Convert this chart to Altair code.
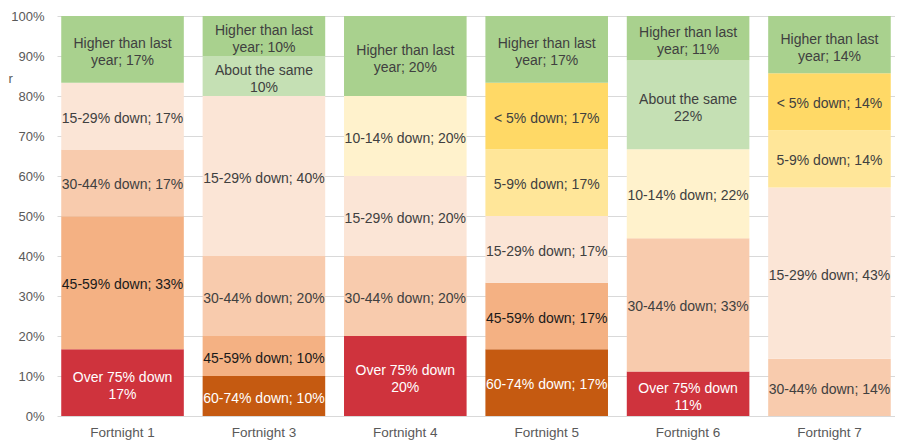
import altair as alt
import pandas as pd

fortnights = ["Fortnight 1", "Fortnight 3", "Fortnight 4", "Fortnight 5", "Fortnight 6", "Fortnight 7"]

# bands from bottom to top of each stack
bands = ["Over 75% down", "60-74% down", "45-59% down", "30-44% down", "15-29% down",
         "10-14% down", "5-9% down", "< 5% down", "About the same", "Higher than last year"]

band_colors = ["#CF333D", "#C55A11", "#F4B183", "#F8CBAD", "#FBE5D6",
               "#FFF2CC", "#FFE699", "#FFD966", "#C5E0B4", "#A9D18E"]
text_colors = ["#FFFFFF", "#FFFFFF", "#1A1A1A", "#404040", "#404040",
               "#404040", "#404040", "#404040", "#404040", "#404040"]

label_templates = {
    "Over 75% down": "Over 75% down\n{}%",
    "About the same": "About the same\n{}%",
    "Higher than last year": "Higher than last\nyear; {}%",
}

# percentage shares per band (same order as bands), per fortnight
f1 = [16.7, 0, 33.3, 16.7, 16.7, 0, 0, 0, 0, 16.7]
f3 = [0, 10, 10, 20, 40, 0, 0, 0, 10, 10]
f4 = [20, 0, 0, 20, 20, 20, 0, 0, 0, 20]
f5 = [0, 16.7, 16.7, 0, 16.7, 0, 16.7, 16.7, 0, 16.7]
f6 = [11.1, 0, 0, 33.3, 0, 22.2, 0, 0, 22.2, 11.1]
f7 = [0, 0, 0, 14.3, 42.9, 0, 14.3, 14.3, 0, 14.3]

y_ticks = [0, 0.1, 0.2, 0.3, 0.4, 0.5, 0.6, 0.7, 0.8, 0.9, 1.0]

series = [f1, f3, f4, f5, f6, f7]

rows = []
for fn, vals in zip(fortnights, series):
    for i, (b, v) in enumerate(zip(bands, vals)):
        if v <= 0:
            continue
        tmpl = label_templates.get(b, b + "; {}%")
        rows.append({
            "fortnight": fn,
            "band": b,
            "order": i,
            "value": v,
            "label": tmpl.format(int(round(v))),
            "multi": b in label_templates,
            "tcolor": text_colors[i],
        })
df = pd.DataFrame(rows)

FONT = "Liberation Sans"

base = alt.Chart(df).transform_stack(
    stack="value",
    groupby=["fortnight"],
    as_=["y0", "y1"],
    offset="normalize",
    sort=[alt.SortField("order", order="ascending")],
).transform_calculate(
    mid="(datum.y0 + datum.y1) / 2"
)

x_scale = alt.Scale(paddingInner=0.133, paddingOuter=0.03)
y_scale = alt.Scale(domain=[0, 1], nice=False)

x_axis = alt.Axis(labelAngle=0, domain=False, ticks=False, labelPadding=9,
                  labelFont=FONT, labelFontSize=13.5, labelColor="#595959", grid=False)
y_axis = alt.Axis(
    values=y_ticks,
    format=".0%",
    domain=False,
    ticks=False,
    labelOverlap=False,
    labelFlush=False,
    labelPadding=13,
    labelFont=FONT,
    labelFontSize=13,
    labelColor="#595959",
    grid=True,
    gridColor="#D9D9D9",
    title="r",
    titleAngle=0,
    titleX=-49,
    titleY=62,
    titleAlign="left",
    titleBaseline="middle",
    titleFont=FONT,
    titleFontSize=13,
    titleFontWeight="normal",
    titleColor="#595959",
)

bars = base.mark_bar().encode(
    x=alt.X("fortnight:N", sort=fortnights, title=None, scale=x_scale, axis=x_axis),
    y=alt.Y("y0:Q", scale=y_scale, axis=y_axis),
    y2="y1:Q",
    color=alt.Color("band:N", scale=alt.Scale(domain=bands, range=band_colors), legend=None),
)


def text_layer(multi, dy):
    return base.transform_filter(
        "datum.multi" if multi else "!datum.multi"
    ).mark_text(
        font=FONT, fontSize=14, lineHeight=17, lineBreak="\n", baseline="middle",
        align="center", dy=dy
    ).encode(
        x=alt.X("fortnight:N", sort=fortnights, title=None, scale=x_scale, axis=x_axis),
        y=alt.Y("mid:Q", scale=y_scale, axis=y_axis),
        text="label:N",
        color=alt.Color("tcolor:N", scale=None),
    )


texts_single = text_layer(False, 2.5)
texts_multi = text_layer(True, -5)

chart = alt.layer(bars, texts_single, texts_multi).properties(
    width=838,
    height=400,
    padding={"left": 49, "top": 8, "right": 0, "bottom": 25},
    autosize=alt.AutoSizeParams(type="none"),
).configure_view(stroke=None)

chart.save("out.html", embed_options={"renderer": "svg", "actions": False})
